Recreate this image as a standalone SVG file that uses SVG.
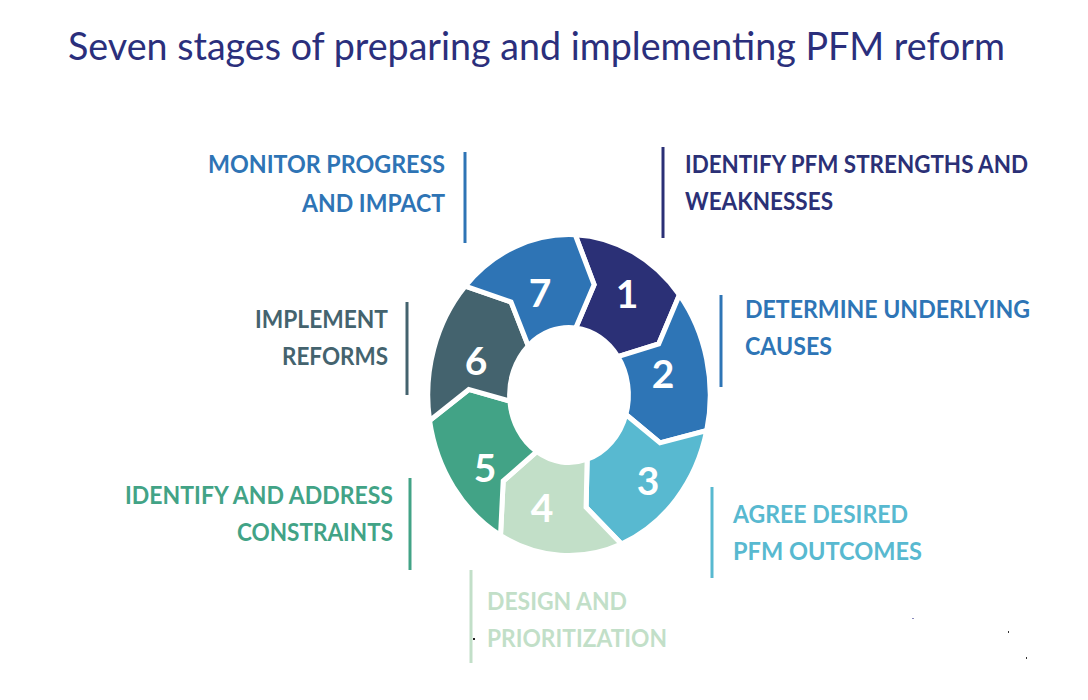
<svg xmlns="http://www.w3.org/2000/svg" width="1088" height="700" viewBox="0 0 1088 700">
<style>
.title{font-family:Lato,"Open Sans","Liberation Sans",sans-serif;font-size:39px;fill:#2B2F7C}
.lbl{font-family:Lato,"Open Sans","Liberation Sans",sans-serif;font-size:25px;font-weight:700}
.num{font-family:Lato,"Open Sans","Liberation Sans",sans-serif;font-size:39px;font-weight:700;fill:#ffffff;text-anchor:middle}
.seg{stroke:#ffffff;stroke-width:5;stroke-linejoin:miter;vector-effect:non-scaling-stroke}
.div{stroke-width:3;fill:none}
.c1{fill:#2B3076}.s1{stroke:#2B3076}
.c2{fill:#2E75B6}.s2{stroke:#2E75B6}
.c3{fill:#58B9D0}.s3{stroke:#58B9D0}
.c4{fill:#C2DFC8}.s4{stroke:#C2DFC8}
.c5{fill:#42A386}.s5{stroke:#42A386}
.c6{fill:#44636E}.s6{stroke:#44636E}
.c7{fill:#2E74B5}.s7{stroke:#2E74B5}
</style>
<rect width="1088" height="700" fill="#ffffff"/>
<text class="title" x="68" y="60" textLength="937" lengthAdjust="spacingAndGlyphs">Seven stages of preparing and implementing PFM reform</text>

<g id="node-1">
<path class="seg c1" transform="translate(569,395) scale(0.88,1)" d="M7.00,-160.35 A160.5,160.5 0 0 1 125.43,-100.13 L101.93,-51.04 L55.56,-38.33 A67.5,67.5 0 0 0 7.64,-67.07 L28.54,-110.37 Z"/>
<text class="num" x="627" y="308">1</text>
<line class="div s1" x1="663" y1="147" x2="663" y2="238"/>
<text class="lbl c1" x="685" y="173" textLength="343" lengthAdjust="spacingAndGlyphs">IDENTIFY PFM STRENGTHS AND</text>
<text class="lbl c1" x="685" y="210" textLength="148" lengthAdjust="spacingAndGlyphs">WEAKNESSES</text>
</g>

<g id="node-2">
<path class="seg c2" transform="translate(569,395) scale(0.88,1)" d="M125.43,-100.13 A160.5,160.5 0 0 1 156.51,35.56 L103.49,47.82 L64.62,19.51 A67.5,67.5 0 0 0 55.56,-38.33 L101.93,-51.04 Z"/>
<text class="num" x="663" y="388">2</text>
<line class="div s2" x1="721" y1="295" x2="721" y2="387"/>
<text class="lbl c2" x="745" y="318" textLength="285" lengthAdjust="spacingAndGlyphs">DETERMINE UNDERLYING</text>
<text class="lbl c2" x="745" y="355" textLength="87" lengthAdjust="spacingAndGlyphs">CAUSES</text>
</g>

<g id="node-3">
<path class="seg c3" transform="translate(569,395) scale(0.88,1)" d="M156.51,35.56 A160.5,160.5 0 0 1 59.61,149.02 L19.40,112.34 L20.63,64.27 A67.5,67.5 0 0 0 64.62,19.51 L103.49,47.82 Z"/>
<text class="num" x="648" y="495">3</text>
<line class="div s3" x1="712" y1="487" x2="712" y2="578"/>
<text class="lbl c3" x="733" y="523" textLength="175" lengthAdjust="spacingAndGlyphs">AGREE DESIRED</text>
<text class="lbl c3" x="733" y="560" textLength="189" lengthAdjust="spacingAndGlyphs">PFM OUTCOMES</text>
</g>

<g id="node-4">
<path class="seg c4" transform="translate(569,395) scale(0.88,1)" d="M59.61,149.02 A160.5,160.5 0 0 1 -77.81,140.38 L-74.79,86.04 L-36.76,56.61 A67.5,67.5 0 0 0 20.63,64.27 L19.40,112.34 Z"/>
<text class="num" x="542" y="522">4</text>
<line class="div s4" x1="471" y1="570" x2="471" y2="663"/>
<text class="lbl c4" x="487" y="610" textLength="140" lengthAdjust="spacingAndGlyphs">DESIGN AND</text>
<text class="lbl c4" x="487" y="647" textLength="180" lengthAdjust="spacingAndGlyphs">PRIORITIZATION</text>
</g>

<g id="node-5">
<path class="seg c5" transform="translate(569,395) scale(0.88,1)" d="M-77.81,140.38 A160.5,160.5 0 0 1 -158.44,25.66 L-113.86,-5.57 L-67.22,6.12 A67.5,67.5 0 0 0 -36.76,56.61 L-74.79,86.04 Z"/>
<text class="num" x="485" y="482">5</text>
<line class="div s5" x1="410" y1="478" x2="410" y2="570"/>
<text class="lbl c5" x="125" y="504" textLength="268" lengthAdjust="spacingAndGlyphs">IDENTIFY AND ADDRESS</text>
<text class="lbl c5" x="237" y="541" textLength="156" lengthAdjust="spacingAndGlyphs">CONSTRAINTS</text>
</g>

<g id="node-6">
<path class="seg c6" transform="translate(569,395) scale(0.88,1)" d="M-158.44,25.66 A160.5,160.5 0 0 1 -117.95,-108.84 L-65.87,-93.04 L-46.30,-49.12 A67.5,67.5 0 0 0 -67.22,6.12 L-113.86,-5.57 Z"/>
<text class="num" x="476" y="375">6</text>
<line class="div s6" x1="407" y1="302" x2="407" y2="395"/>
<text class="lbl c6" x="255" y="328" textLength="133" lengthAdjust="spacingAndGlyphs">IMPLEMENT</text>
<text class="lbl c6" x="282" y="365" textLength="106" lengthAdjust="spacingAndGlyphs">REFORMS</text>
</g>

<g id="node-7">
<path class="seg c7" transform="translate(569,395) scale(0.88,1)" d="M-117.95,-108.84 A160.5,160.5 0 0 1 7.00,-160.35 L28.54,-110.37 L7.64,-67.07 A67.5,67.5 0 0 0 -46.30,-49.12 L-65.87,-93.04 Z"/>
<text class="num" x="540" y="307">7</text>
<line class="div s7" x1="465" y1="152" x2="465" y2="243"/>
<text class="lbl c7" x="208" y="173" textLength="237" lengthAdjust="spacingAndGlyphs">MONITOR PROGRESS</text>
<text class="lbl c7" x="302" y="212" textLength="143" lengthAdjust="spacingAndGlyphs">AND IMPACT</text>
</g>

<g id="connectors"></g>

<g id="specks">
<rect x="473" y="638" width="2" height="2" fill="#222222"/>
<rect x="912" y="618" width="2" height="1" fill="#8888bb"/>
<rect x="1008" y="631" width="1" height="2" fill="#333333"/>
<rect x="1026" y="657" width="1" height="2" fill="#333333"/>
</g>
</svg>
